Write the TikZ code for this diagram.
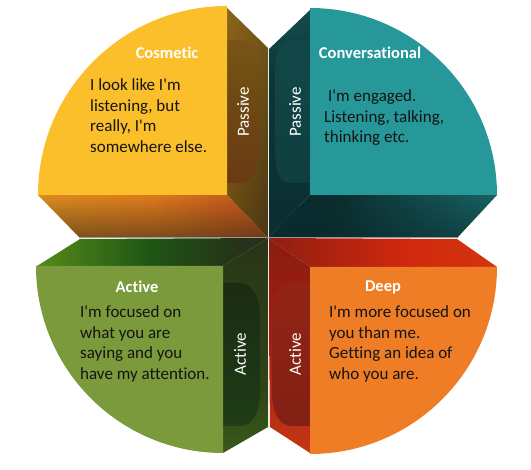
\documentclass[tikz,border=0pt]{standalone}
\usepackage{fontspec}
\setmainfont{Carlito}[Ligatures={TeXOff,CommonOff}]
\usetikzlibrary{fadings}
\definecolor{yelF}{HTML}{FBBF2B}
\definecolor{tealF}{HTML}{26989A}
\definecolor{greenF}{HTML}{7A9A3C}
\definecolor{orangeF}{HTML}{EE7D26}
\definecolor{txt}{HTML}{141414}
\definecolor{darkB}{HTML}{3A2C16}
\definecolor{darkT}{HTML}{0A2A2E}
\definecolor{goldS}{HTML}{D8A024}
% top-left
\definecolor{tlA}{HTML}{7A5614}\definecolor{tlB}{HTML}{3A2C14}
\definecolor{tlC}{HTML}{E07A1C}\definecolor{tlD}{HTML}{B8461A}
\definecolor{cyA}{HTML}{7A4A26}\definecolor{cyB}{HTML}{6A3414}\definecolor{cyC}{HTML}{6E4A12}\definecolor{cyD}{HTML}{84621A}
% bottom-left
\definecolor{blA}{HTML}{6A9428}\definecolor{blB}{HTML}{4E8418}\definecolor{blC}{HTML}{1E5414}\definecolor{blD}{HTML}{27301A}\definecolor{blE}{HTML}{262C16}
\definecolor{bsA}{HTML}{4E7C1A}\definecolor{bsB}{HTML}{2E4418}
\definecolor{cgA}{HTML}{1E3216}\definecolor{cgB}{HTML}{2C4220}\definecolor{cgC}{HTML}{1E3A16}\definecolor{cgD}{HTML}{1A2412}
% bottom-right
\definecolor{brA}{HTML}{4A1C16}\definecolor{brB}{HTML}{8E1E10}\definecolor{brC}{HTML}{D0280E}\definecolor{brD}{HTML}{D4380E}\definecolor{brE}{HTML}{E06018}
\definecolor{rsA}{HTML}{DC5218}\definecolor{rsB}{HTML}{A81E10}\definecolor{rsC}{HTML}{6A1C12}
\definecolor{crA}{HTML}{7A1E12}\definecolor{crB}{HTML}{9A2618}
% custom shadings
\pgfdeclarehorizontalshading{tlbot}{100bp}{color(0bp)=(goldS); color(50bp)=(tlC); color(80bp)=(tlD); color(100bp)=(darkB)}
\pgfdeclarehorizontalshading{tlside}{100bp}{color(0bp)=(tlA); color(100bp)=(tlB)}
\pgfdeclareverticalshading{trside}{100bp}{color(0bp)=(darkT); color(60bp)=(tealF!35!black); color(100bp)=(tealF!75!black)}
\pgfdeclarehorizontalshading{trbot}{100bp}{color(0bp)=(darkT); color(40bp)=(tealF!30!black); color(75bp)=(tealF!65!black); color(100bp)=(tealF!95!black)}
\pgfdeclarehorizontalshading{bltop}{100bp}{color(0bp)=(blA); color(28bp)=(blB); color(50bp)=(blC); color(70bp)=(blD); color(100bp)=(blE)}
\pgfdeclareverticalshading{blside}{100bp}{color(0bp)=(bsA); color(40bp)=(bsB); color(100bp)=(blE)}
\pgfdeclarehorizontalshading{brtop}{100bp}{color(0bp)=(brA); color(25bp)=(brB); color(55bp)=(brC); color(80bp)=(brD); color(100bp)=(brE)}
\pgfdeclareverticalshading{brside}{100bp}{color(0bp)=(rsA); color(50bp)=(rsB); color(100bp)=(rsC)}
\pgfdeclareverticalshading{cyltl}{100bp}{color(0bp)=(cyA); color(15bp)=(cyB); color(55bp)=(cyC); color(100bp)=(cyD)}
\pgfdeclareverticalshading{cyltr}{100bp}{color(0bp)=(tealF!38!black); color(100bp)=(tealF!50!black)}
\pgfdeclareverticalshading{cylbl}{100bp}{color(0bp)=(cgA); color(15bp)=(cgB); color(30bp)=(cgC); color(100bp)=(cgD)}
\pgfdeclareverticalshading{cylbr}{100bp}{color(0bp)=(crA); color(100bp)=(crB)}
\tikzfading[name=opaqbottom, top color=transparent!100, bottom color=transparent!0]
\tikzfading[name=opaqtop, top color=transparent!0, bottom color=transparent!100]
\begin{document}
\begin{tikzpicture}[x=1pt,y=-1pt,
  ttl/.style={font=\fontsize{16.5}{20}\selectfont\bfseries, text=white, inner sep=0pt},
  body/.style={font=\fontsize{17}{20.7}\selectfont, text=txt, align=left, anchor=north west, inner sep=0pt},
  sidelbl/.style={font=\fontsize{17}{20}\selectfont, text=white, rotate=90, inner sep=0pt},
  sep/.style={line width=1pt}]
\useasboundingbox (0,0) rectangle (531,470);
% ---------- side faces ----------
% top-left
\shade[shading=tlside] (227,8) -- (268,48) -- (268,238) -- (227,195) -- cycle;
\fill[goldS, path fading=opaqtop, fill opacity=0.3] (227,8) -- (268,48) -- (268,238) -- (227,195) -- cycle;
\shade[shading=tlbot] (38,195) -- (227,195) -- (268,238) -- (80,238) -- cycle;
\fill[darkB, path fading=opaqbottom, fill opacity=0.6] (38,195) -- (227,195) -- (268,238) -- (80,238) -- cycle;
% top-right
\shade[shading=trside] (310,10) -- (268,50) -- (268,238) -- (310,195) -- cycle;
\shade[shading=trbot] (310,195) -- (497,195) -- (457,238) -- (268,238) -- cycle;
\fill[darkT, path fading=opaqbottom, fill opacity=0.5] (310,195) -- (497,195) -- (457,238) -- (268,238) -- cycle;
% bottom-left
\shade[shading=bltop] (37,266) -- (80,239) -- (268,238) -- (223,266) -- cycle;
\shade[shading=blside] (223,266) -- (268,238) -- (268,427) -- (223,453) -- cycle;
% bottom-right
\shade[shading=brtop] (310,267) -- (497,267) -- (457,239) -- (268,238) -- cycle;
\shade[shading=brside] (268,238) -- (310,267) -- (310,453) -- (270,427) -- cycle;
% ---------- separators ----------
\draw[sep, white!85!gray] (268,48) -- (268,428);
\draw[sep, gray!80] (80,238) -- (457,238);
% ---------- cylinders ----------
\shade[shading=cyltl]
  (227,40) -- (240,40) .. controls (252,40) and (258,55) .. (258,75) -- (258,150) .. controls (258,170) and (252,183) .. (240,183) -- (227,183) -- cycle;
\shade[shading=cyltr]
  (310,40) -- (290,40) .. controls (279,40) and (275,55) .. (275,75) -- (275,150) .. controls (275,170) and (279,183) .. (290,183) -- (310,183) -- cycle;
\shade[shading=cylbl]
  (223,283) -- (240,283) .. controls (253,283) and (260,298) .. (260,318) -- (260,392) .. controls (260,412) and (253,426) .. (240,426) -- (223,426) -- cycle;
\shade[shading=cylbr]
  (310,283) -- (292,283) .. controls (279,283) and (272,298) .. (272,318) -- (272,392) .. controls (272,412) and (279,426) .. (292,426) -- (310,426) -- cycle;
% ---------- front faces ----------
\fill[yelF] (227,195) -- (38,195) arc[start angle=180, end angle=90, radius=189pt] -- cycle;
\fill[tealF] (310,195) -- (497,195) arc[start angle=0, end angle=90, radius=187pt] -- cycle;
\fill[greenF] (223,266) -- (36,266) arc[start angle=180, end angle=270, radius=187pt] -- cycle;
\fill[orangeF] (310,267) -- (497,267) arc[start angle=0, end angle=-90, radius=187pt] -- cycle;
% ---------- texts ----------
\node[ttl] (tcos) at (167,53) {Cosmetic};
\node[body] (bcos) at (90,78.5) {I look like I'm\\listening, but\\really, I'm\\somewhere else.};
\node[sidelbl] (pcos) at (243,112) {Passive};
\node[ttl] (tcon) at (370,53) {Conversational};
\node[body] (bcon) at (324,89.5) {\hspace{4pt}I'm engaged.\\Listening, talking,\\thinking etc.};
\node[sidelbl] (pcon) at (295,112) {Passive};
\node[ttl] (tact) at (137,287) {Active};
\node[body] (bact) at (80,305.5) {I'm focused on\\what you are\\saying and you\\have my attention.};
\node[sidelbl] (pact) at (240,354) {Active};
\node[ttl] (tdeep) at (383,287) {Deep};
\node[body] (bdeep) at (329,305.5) {I'm more focused on\\you than me.\\Getting an idea of\\who you are.};
\node[sidelbl] (pdeep) at (295,354) {Active};
\end{tikzpicture}
\end{document}
